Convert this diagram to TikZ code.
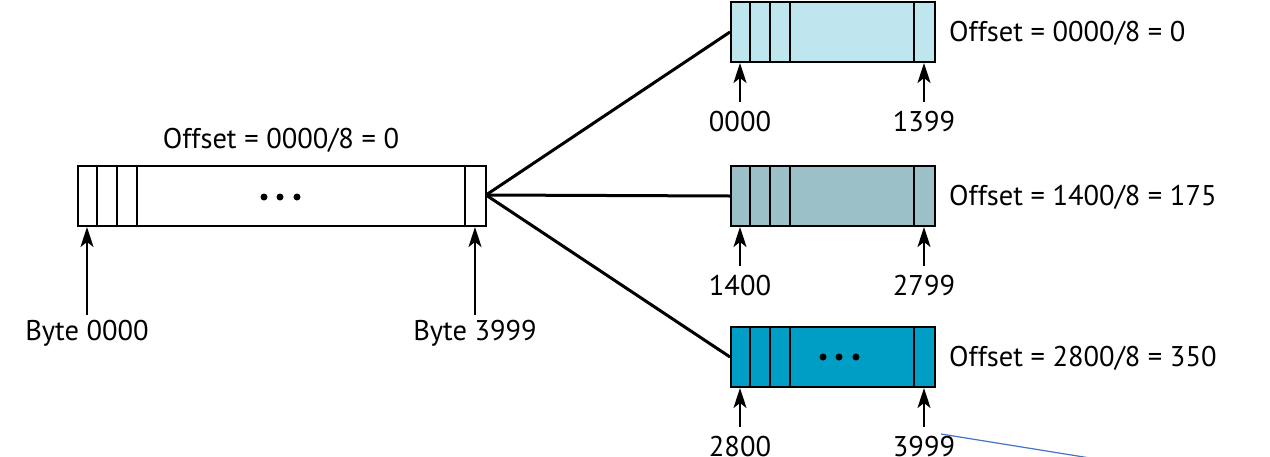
\documentclass[tikz,border=0pt]{standalone}
\usepackage{fontspec}
\setmainfont{PT Sans}
\usetikzlibrary{arrows.meta}
\definecolor{cTop}{RGB}{191,230,239}
\definecolor{cMid}{RGB}{155,192,200}
\definecolor{cBot}{RGB}{0,158,196}
\definecolor{cLine}{RGB}{68,114,196}
\begin{document}
\begin{tikzpicture}[x=1pt,y=-1pt,
  frag/.style={draw=black,line width=2pt,minimum width=204pt,minimum height=60pt,inner sep=0pt,anchor=north west},
  big/.style={draw=black,line width=2pt,minimum width=408pt,minimum height=60pt,inner sep=0pt,anchor=north west},
  div/.style={line width=2pt},
  ptr/.style={line width=2pt,-{Stealth[length=20pt,width=13pt,inset=5pt]}},
  conn/.style={line width=3pt},
  lbl/.style={font=\fontsize{28.5}{32}\selectfont,inner sep=0pt},
  dot/.style={circle,fill=black,inner sep=0pt,minimum size=7pt}]
\useasboundingbox (0,0) rectangle (1270,456);
% big datagram
\node[big,fill=white] (B) at (77,165) {};
\foreach \x in {97,117,137,465} \draw[div] (\x,165) -- (\x,225);
\foreach \x/\k in {264/1,280/2,297/3} \node[dot] (Bd\k) at (\x,197) {};
\node[lbl] (Boff) at (281,140) {Offset = 0000/8 = 0};
\coordinate (Ba) at (87,315);
\coordinate (Bb) at (475,315);
\draw[ptr] (Ba) -- (Ba |- B.south);
\draw[ptr] (Bb) -- (Bb |- B.south);
\node[lbl] (Bl1) at (87,333) {Byte 0000};
\node[lbl] (Bl2) at (475,333) {Byte 3999};
% fragments
\foreach \n/\y/\c/\a/\b/\o in {F1/1/cTop/0000/1399/{0000/8 = 0},F2/165/cMid/1400/2799/{1400/8 = 175},F3/326/cBot/2800/3999/{2800/8 = 350}}{
  \node[frag,fill=\c] (\n) at (730,\y) {};
  \foreach \x in {750,770,790,914} \draw[div] (\x,\y) -- (\x,\y+60);
  \node[lbl,anchor=west] (\n o) at (949,\y+32) {Offset = \o};
  \coordinate (\n a) at (740,\y+101);
  \coordinate (\n b) at (924,\y+101);
  \draw[ptr] (\n a) -- (\n a |- \n.south);
  \draw[ptr] (\n b) -- (\n b |- \n.south);
  \node[lbl] (\n la) at (740,\y+121) {\a};
  \node[lbl] (\n lb) at (924,\y+121) {\b};
}
\foreach \x/\k in {823/1,839/2,856/3} \node[dot] (F3d\k) at (\x,357) {};
% connectors
\coordinate (S) at (486,195);
\draw[conn] (S) -- (F1.west);
\draw[conn] (S) -- (F2.west);
\draw[conn] (S) -- (F3.west);
% stray blue line
\coordinate (L1) at (941,434);
\coordinate (L2) at (1090,458);
\draw[cLine,line width=1.2pt] (L1) -- (L2);
\end{tikzpicture}
\end{document}
